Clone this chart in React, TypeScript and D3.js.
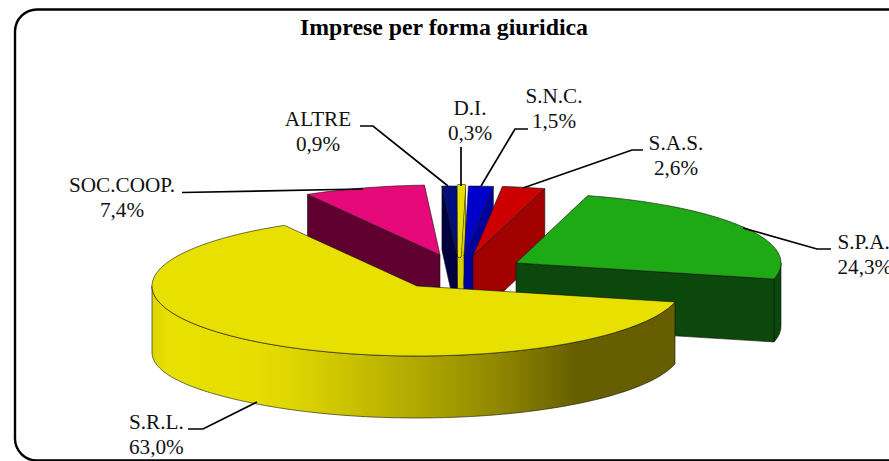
import React from "react";
import * as d3 from "d3";

const categories = ["S.R.L.", "SOC.COOP.", "ALTRE", "D.I.", "S.N.C.", "S.A.S.", "S.P.A."];
const values = [63.0, 7.4, 0.9, 0.3, 1.5, 2.6, 24.3];
const topColors = ["#e8e000", "#e6097a", "#000f80", "#e8e000", "#0000cc", "#cc0000", "#1eaa14"];
const sideColors = ["url(#yellowSide)", "#600030", "#000040", "#d8d000", "#0000a0", "#a00000", "#0c480c"];
const apexes: [number, number][] = [[417, 286], [440, 255], [457.5, 256], [459.5, 256], [464, 256], [473, 256], [516, 263]];
const depths = [62, 64, 64, 64, 64, 64, 63];
const leftSag = [4, 0, 0, 0, 0, 0, 0];
const thicken = [0, 0, 0, 3, 0, 0, 0];
const drawOrder = [1, 2, 3, 4, 5, 6, 0];
const labelAnchors: { x: number; y: number; anchor: string }[] = [
  { x: 129, y: 429, anchor: "start" },
  { x: 122, y: 192, anchor: "middle" },
  { x: 318, y: 126, anchor: "middle" },
  { x: 470, y: 115, anchor: "middle" },
  { x: 554, y: 103, anchor: "middle" },
  { x: 676, y: 150, anchor: "middle" },
  { x: 837.5, y: 249, anchor: "start" },
];
const leaders: [number, number][][] = [
  [[188, 429], [203, 429], [257, 402]],
  [[182, 192.5], [363, 189]],
  [[360, 126], [373, 126], [448, 186]],
  [[461, 147], [461, 186]],
  [[528, 129], [515, 129], [481, 186]],
  [[643, 150], [632, 150], [523, 188]],
  [[831, 249], [817, 249], [743, 228]],
];
const gradientStops: [number, string][] = [
  [0, "#dcd400"], [0.03, "#e8e000"], [0.2, "#e6de00"], [0.28, "#dcd400"], [0.36, "#cdc500"],
  [0.535, "#aaa200"], [0.66, "#8f8700"], [0.81, "#665e00"], [1, "#665e00"],
];

const RX = 265;
const RY = 70;
const TAU = Math.PI * 2;
const START = (103.2 / 360) * TAU;

const pie = d3.pie<number>().sort(null).startAngle(START).endAngle(START + TAU);
const arcs = pie(values);
const line = d3.line<[number, number]>();

function pt(apex: [number, number], t: number, dy = 0): [number, number] {
  return [apex[0] + RX * Math.sin(t), apex[1] - RY * Math.cos(t) + dy];
}
function samples(a: number, b: number): number[] {
  const n = Math.max(2, Math.ceil(Math.abs(b - a) / 0.02));
  return d3.range(n + 1).map((i) => a + ((b - a) * i) / n);
}
// the two front-facing ranges of the rim, since angles run past one full turn
const frontRanges: [number, number][] = [
  [Math.PI / 2, (3 * Math.PI) / 2],
  [Math.PI / 2 + TAU, (3 * Math.PI) / 2 + TAU],
];

function Slice({ i }: { i: number }) {
  const { startAngle: a0, endAngle: a1 } = arcs[i];
  const apex = apexes[i];
  const d = depths[i];
  const drop = (t: number) => {
    const s = Math.sin(t);
    return d + (s < 0 ? leftSag[i] * Math.pow(-s, 6) : 0);
  };
  const top = line([apex, ...samples(a0, a1).map((t) => pt(apex, t))])! + "Z";
  const stroke = { stroke: "#111", strokeWidth: 0.6, strokeLinejoin: "round" as const };
  const parts: React.ReactNode[] = [];
  const faces: [number, number][][] = [];
  frontRanges.forEach(([lo, hi]) => {
    const w0 = Math.max(a0, lo);
    const w1 = Math.min(a1, hi);
    if (w1 > w0) {
      const s = samples(w0, w1);
      faces.push([...s.map((t) => pt(apex, t)), ...s.slice().reverse().map((t) => pt(apex, t, drop(t)))]);
    }
  });
  if (Math.sin(a0) < 0) faces.push([apex, pt(apex, a0), pt(apex, a0, d), [apex[0], apex[1] + d]]);
  if (Math.sin(a1) > 0) faces.push([apex, pt(apex, a1), pt(apex, a1, d), [apex[0], apex[1] + d]]);
  faces.forEach((f, k) => {
    const p = line(f)! + "Z";
    if (thicken[i]) {
      parts.push(<path key={`o${k}`} d={p} fill="none" stroke="#222" strokeWidth={thicken[i] + 1} />);
      parts.push(<path key={`i${k}`} d={p} fill={sideColors[i]} stroke={sideColors[i]} strokeWidth={thicken[i]} />);
    } else {
      parts.push(<path key={k} d={p} fill={sideColors[i]} {...stroke} />);
    }
  });
  return (
    <g>
      {parts}
      {thicken[i] ? <path d={top} fill="none" stroke="#222" strokeWidth={thicken[i] + 1} strokeLinejoin="round" /> : null}
      {thicken[i] ? (
        <path d={top} fill={topColors[i]} stroke={topColors[i]} strokeWidth={thicken[i]} strokeLinejoin="round" />
      ) : (
        <path d={top} fill={topColors[i]} {...stroke} />
      )}
    </g>
  );
}

export default function App() {
  return (
    <svg
      width={889}
      height={461}
      viewBox="0 0 889 461"
      style={{ position: "absolute", left: 0, top: 0, display: "block", background: "#fff" }}
      fontFamily="'Liberation Serif', serif"
    >
      <defs>
        <linearGradient id="yellowSide" gradientUnits="userSpaceOnUse" x1={152} x2={677} y1={0} y2={0}>
          {gradientStops.map(([o, c]) => (
            <stop key={o} offset={o} stopColor={c} />
          ))}
        </linearGradient>
      </defs>
      <rect x={15} y={9.5} width={920} height={451} rx={22} ry={22} fill="none" stroke="#000" strokeWidth={2.4} />
      <text x={444} y={35} textAnchor="middle" fontWeight="bold" fontSize={23.8} fill="#000">
        Imprese per forma giuridica
      </text>
      {drawOrder.map((i) => (
        <Slice key={i} i={i} />
      ))}
      {leaders.map((pts, i) => (
        <path key={i} d={line(pts)!} fill="none" stroke="#000" strokeWidth={1.7} />
      ))}
      {categories.map((c, i) => (
        <text key={c} fontSize={21.2} textAnchor={labelAnchors[i].anchor} fill="#111">
          <tspan x={labelAnchors[i].x} y={labelAnchors[i].y}>{c}</tspan>
          <tspan x={labelAnchors[i].x} y={labelAnchors[i].y + 24.7}>{values[i].toFixed(1).replace(".", ",")}%</tspan>
        </text>
      ))}
    </svg>
  );
}
